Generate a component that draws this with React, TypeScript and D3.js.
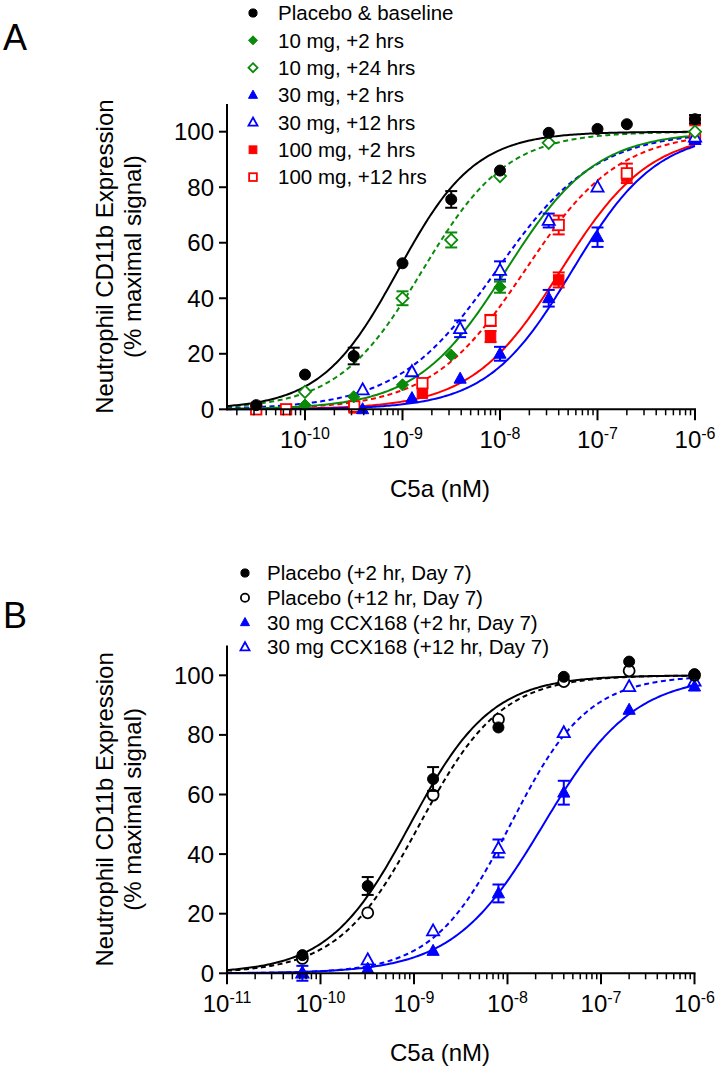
import React from 'react';
import * as d3 from 'd3';

// ---------------- Panel A data ----------------
const concA_placebo = [3.16e-11, 1e-10, 3.16e-10, 1e-9, 3.16e-9, 1e-8, 3.16e-8, 1e-7, 2e-7, 1e-6];
const valA_placebo = [1.5, 12.5, 19.2, 52.6, 75.6, 86, 99.6, 101, 102.7, 104.5];
const errA_placebo = [0, 0, 3, 0, 3, 0, 0, 0, 0, 1.5];

const concA_10mg2 = [1e-10, 3.16e-10, 1e-9, 3.16e-9, 1e-8, 1e-6];
const valA_10mg2 = [1.5, 4.5, 8.8, 19.5, 44, 100];
const errA_10mg2 = [0, 0, 0, 0, 2, 0];

const concA_10mg24 = [1e-10, 1e-9, 3.16e-9, 1e-8, 3.16e-8, 1e-6];
const valA_10mg24 = [6.3, 40, 61, 84, 96, 100];
const errA_10mg24 = [0, 2.5, 2.7, 0, 0, 0];

const concA_30mg2 = [3.9e-10, 1.25e-9, 3.9e-9, 1e-8, 3.16e-8, 1e-7, 1e-6];
const valA_30mg2 = [0, 4, 11, 20, 40, 62, 97];
const errA_30mg2 = [0, 0, 0, 2.5, 3, 3.5, 0];

const concA_30mg12 = [3.9e-10, 1.25e-9, 3.9e-9, 1e-8, 3.16e-8, 1e-7, 1e-6];
const valA_30mg12 = [7, 13.5, 29, 50, 68, 80, 98];
const errA_30mg12 = [0, 0, 3, 3.3, 2.5, 0, 0];

const concA_100mg2 = [3.2e-10, 1.6e-9, 8e-9, 4e-8, 2e-7, 1e-6];
const valA_100mg2 = [0.5, 5.8, 26.2, 46.6, 84, 104];
const errA_100mg2 = [0, 0, 2, 2.7, 0, 0];

const concA_100mg12 = [3.16e-11, 6.4e-11, 3.2e-10, 1.6e-9, 8e-9, 4e-8, 2e-7, 1e-6];
const valA_100mg12 = [0, 0, 1, 9.4, 32, 66.4, 85, 98];
const errA_100mg12 = [0, 0, 0, 0, 2, 3.4, 3.5, 0];

// fitted curve parameters: [EC50, Hill]
const fitA_placebo = [9e-10, 1.1];
const fitA_10mg2 = [1.15e-8, 0.95];
const fitA_10mg24 = [1.6e-9, 1.0];
const fitA_30mg2 = [5.5e-8, 1.0];
const fitA_30mg12 = [9.2e-9, 0.85];
const fitA_100mg2 = [4.2e-8, 0.95];
const fitA_100mg12 = [1.8e-8, 0.9];

const legendA = [
  'Placebo & baseline',
  '10 mg, +2 hrs',
  '10 mg, +24 hrs',
  '30 mg, +2 hrs',
  '30 mg, +12 hrs',
  '100 mg, +2 hrs',
  '100 mg, +12 hrs',
];

// ---------------- Panel B data ----------------
const concB = [6.4e-11, 3.2e-10, 1.6e-9, 8e-9, 4e-8, 2e-7, 1e-6];
const valB_pl2 = [6.1, 29.3, 65.2, 82.5, 99.5, 104.6, 100.4];
const errB_pl2 = [0, 3, 4, 0, 0, 0, 0];
const valB_pl12 = [5, 20.3, 59.8, 85.2, 97.9, 101.5, 100];
const errB_pl12 = [0, 0, 0, 0, 0, 0, 0];
const valB_30mg2 = [0, 1.5, 7.5, 26.8, 60.6, 88.4, 96.2];
const errB_30mg2 = [0, 0, 0, 3, 4, 0, 0];
const valB_30mg12 = [0, 4.5, 14.2, 41.9, 80.7, 96.2, 98];
const errB_30mg12 = [2.5, 0, 0, 3, 0, 0, 0];

const fitB_pl2 = [9.1e-10, 1.0];
const fitB_pl12 = [1.15e-9, 1.0];
const fitB_30mg2 = [2.43e-8, 0.9];
const fitB_30mg12 = [1.08e-8, 1.05];

const legendB = [
  'Placebo (+2 hr, Day 7)',
  'Placebo (+12 hr, Day 7)',
  '30 mg CCX168 (+2 hr, Day 7)',
  '30 mg CCX168 (+12 hr, Day 7)',
];

const yTicks = [0, 20, 40, 60, 80, 100];
const xTicksA = [-10, -9, -8, -7, -6];
const xTicksB = [-11, -10, -9, -8, -7, -6];

const GREEN = '#0a8a0a';
const BLUE = '#0000ff';
const RED = '#ff0000';
const BLACK = '#000000';
const FONT = '"Liberation Sans", Arial, Helvetica, sans-serif';

type Series = {
  color: string; shape: string; filled: boolean; dashed: boolean;
  conc: number[]; val: number[]; err: number[]; fit: number[];
};

const seriesA: Series[] = [
  { color: RED, shape: 'square', filled: true, dashed: false, conc: concA_100mg2, val: valA_100mg2, err: errA_100mg2, fit: fitA_100mg2 },
  { color: RED, shape: 'square', filled: false, dashed: true, conc: concA_100mg12, val: valA_100mg12, err: errA_100mg12, fit: fitA_100mg12 },
  { color: BLUE, shape: 'triangle', filled: true, dashed: false, conc: concA_30mg2, val: valA_30mg2, err: errA_30mg2, fit: fitA_30mg2 },
  { color: BLUE, shape: 'triangle', filled: false, dashed: true, conc: concA_30mg12, val: valA_30mg12, err: errA_30mg12, fit: fitA_30mg12 },
  { color: GREEN, shape: 'diamond', filled: true, dashed: false, conc: concA_10mg2, val: valA_10mg2, err: errA_10mg2, fit: fitA_10mg2 },
  { color: GREEN, shape: 'diamond', filled: false, dashed: true, conc: concA_10mg24, val: valA_10mg24, err: errA_10mg24, fit: fitA_10mg24 },
  { color: BLACK, shape: 'circle', filled: true, dashed: false, conc: concA_placebo, val: valA_placebo, err: errA_placebo, fit: fitA_placebo },
];
const legendStylesA = [
  { color: BLACK, shape: 'circle', filled: true },
  { color: GREEN, shape: 'diamond', filled: true },
  { color: GREEN, shape: 'diamond', filled: false },
  { color: BLUE, shape: 'triangle', filled: true },
  { color: BLUE, shape: 'triangle', filled: false },
  { color: RED, shape: 'square', filled: true },
  { color: RED, shape: 'square', filled: false },
];

const seriesB: Series[] = [
  { color: BLUE, shape: 'triangle', filled: false, dashed: true, conc: concB, val: valB_30mg12, err: errB_30mg12, fit: fitB_30mg12 },
  { color: BLUE, shape: 'triangle', filled: true, dashed: false, conc: concB, val: valB_30mg2, err: errB_30mg2, fit: fitB_30mg2 },
  { color: BLACK, shape: 'circle', filled: false, dashed: true, conc: concB, val: valB_pl12, err: errB_pl12, fit: fitB_pl12 },
  { color: BLACK, shape: 'circle', filled: true, dashed: false, conc: concB, val: valB_pl2, err: errB_pl2, fit: fitB_pl2 },
];
const legendStylesB = [
  { color: BLACK, shape: 'circle', filled: true },
  { color: BLACK, shape: 'circle', filled: false },
  { color: BLUE, shape: 'triangle', filled: true },
  { color: BLUE, shape: 'triangle', filled: false },
];

function Marker({ x, y, shape, filled, color, s }: any) {
  const fill = filled ? color : '#fff';
  const sw = filled ? 1 : 1.8;
  if (shape === 'circle') return <circle cx={x} cy={y} r={s * 0.95} fill={fill} stroke={color} strokeWidth={sw} />;
  if (shape === 'square') return <rect x={x - s * 0.9} y={y - s * 0.9} width={s * 1.8} height={s * 1.8} fill={fill} stroke={color} strokeWidth={sw} />;
  if (shape === 'diamond') {
    const d = s * 1.05;
    return <path d={`M${x},${y - d}L${x + d},${y}L${x},${y + d}L${x - d},${y}Z`} fill={fill} stroke={color} strokeWidth={sw} />;
  }
  const h = s * 1.9, w = s * 1.05;
  return <path d={`M${x},${y - h * 0.6}L${x + w},${y + h * 0.4}L${x - w},${y + h * 0.4}Z`} fill={fill} stroke={color} strokeWidth={sw} />;
}

function Panel({ series, xs, ys, logMin, xTicks, letter, letterY, legend, legendStyles, legX, legY0, legDy }: any) {
  const x0 = xs.range()[0], x1 = xs.range()[1];
  const y0 = ys.range()[0], y1 = ys.range()[1];
  const minor: number[] = [];
  for (let e = Math.floor(logMin); e < -6; e++) {
    for (let k = 2; k <= 9; k++) {
      const v = k * Math.pow(10, e);
      if (Math.log10(v) > logMin && v < 1e-6) minor.push(v);
    }
  }
  const line = d3.line<[number, number]>().x(d => xs(d[0])).y(d => ys(d[1]));
  const samples = d3.range(0, 241).map(i => Math.pow(10, logMin + (i / 240) * (-6 - logMin)));
  const cx = (x0 + x1) / 2;
  const cy = (y0 + y1) / 2;
  return (
    <g fontFamily={FONT}>
      <text x={3} y={letterY} fontSize={36}>{letter}</text>
      {legend.map((t: string, i: number) => {
        const st = legendStyles[i];
        const yy = legY0 + i * legDy;
        return (
          <g key={t}>
            <Marker x={legX} y={yy} shape={st.shape} filled={st.filled} color={st.color} s={4.3} />
            <text x={legX + (legX > 250 ? 25 : 22)} y={yy + 7.3} fontSize={20.5}>{t}</text>
          </g>
        );
      })}
      {/* curves */}
      {series.map((s: Series, i: number) => {
        const [ec50, hill] = s.fit;
        const pts = samples.map(c => [c, 100 / (1 + Math.pow(ec50 / c, hill))] as [number, number]);
        return <path key={'c' + i} d={line(pts) || ''} fill="none" stroke={s.color} strokeWidth={2}
          strokeDasharray={s.dashed ? '5,3.5' : undefined} />;
      })}
      {/* error bars and points */}
      {series.map((s: Series, i: number) => (
        <g key={'p' + i}>
          {s.conc.map((c, j) => {
            const e = s.err[j];
            if (!e) return null;
            const px = xs(c);
            return (
              <g key={j} stroke={s.color} strokeWidth={2}>
                <line x1={px} x2={px} y1={ys(s.val[j] - e)} y2={ys(s.val[j] + e)} />
                <line x1={px - 6} x2={px + 6} y1={ys(s.val[j] + e)} y2={ys(s.val[j] + e)} />
                <line x1={px - 6} x2={px + 6} y1={ys(s.val[j] - e)} y2={ys(s.val[j] - e)} />
              </g>
            );
          })}
          {s.conc.map((c, j) => (
            <Marker key={j} x={xs(c)} y={ys(s.val[j])} shape={s.shape} filled={s.filled} color={s.color} s={5.8} />
          ))}
        </g>
      ))}
      {/* axes */}
      <line x1={x0} x2={x0} y1={y0 + 1} y2={y1} stroke="#000" strokeWidth={2} />
      <line x1={x0 - 1} x2={x1 + 1} y1={y0} y2={y0} stroke="#000" strokeWidth={2} />
      {yTicks.map(t => (
        <g key={t}>
          <line x1={x0 - 8} x2={x0} y1={ys(t)} y2={ys(t)} stroke="#000" strokeWidth={2} />
          <text x={x0 - 13} y={ys(t) + 8.5} fontSize={24} textAnchor="end">{t}</text>
        </g>
      ))}
      {minor.map(v => (
        <line key={v} x1={xs(v)} x2={xs(v)} y1={y0} y2={y0 + 6} stroke="#000" strokeWidth={1.5} />
      ))}
      {xTicks.map((e: number) => (
        <g key={e}>
          <line x1={xs(Math.pow(10, e))} x2={xs(Math.pow(10, e))} y1={y0} y2={y0 + 11} stroke="#000" strokeWidth={2} />
          <text x={xs(Math.pow(10, e))} y={y0 + 39} fontSize={24} textAnchor="middle">
            10<tspan fontSize={16} dy={-9}>{String(e).replace('-', '-')}</tspan>
          </text>
        </g>
      ))}
      <text x={440} y={y0 + 88} fontSize={24} textAnchor="middle">C5a (nM)</text>
      <text transform={`translate(113,${cy}) rotate(-90)`} fontSize={24} textAnchor="middle">Neutrophil CD11b Expression</text>
      <text transform={`translate(141,${cy}) rotate(-90)`} fontSize={24} textAnchor="middle">(% maximal signal)</text>
    </g>
  );
}

export default function App() {
  const logMinA = -10.8;
  const xsA = d3.scaleLog().domain([Math.pow(10, logMinA), 1e-6]).range([227, 695]);
  const ysA = d3.scaleLinear().domain([0, 110]).range([409.3, 409.3 - 110 * 2.776]);
  const logMinB = -11;
  const xsB = d3.scaleLog().domain([1e-11, 1e-6]).range([227, 694.5]);
  const ysB = d3.scaleLinear().domain([0, 110]).range([973.3, 973.3 - 110 * 2.98]);
  return (
    <svg width={721} height={1072} style={{ position: 'absolute', left: 0, top: 0, background: '#fff' }}>
      <rect width={721} height={1072} fill="#fff" />
      <Panel series={seriesA} xs={xsA} ys={ysA} logMin={logMinA} xTicks={xTicksA} letter="A" letterY={50}
        legend={legendA} legendStyles={legendStylesA} legX={253} legY0={13} legDy={27.35} />
      <Panel series={seriesB} xs={xsB} ys={ysB} logMin={logMinB} xTicks={xTicksB} letter="B" letterY={628}
        legend={legendB} legendStyles={legendStylesB} legX={245} legY0={573} legDy={24.7} />
    </svg>
  );
}
